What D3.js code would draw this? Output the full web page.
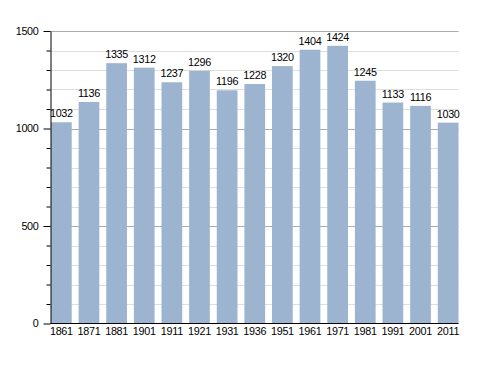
<!doctype html>
<html>
<head>
  <meta charset="utf-8">
  <title>Population</title>
  <script src="https://cdnjs.cloudflare.com/ajax/libs/d3/7.8.5/d3.min.js"></script>
  <style>
  body { margin: 0; background: #fff; }
  text { font-family: "Liberation Sans", Arial, sans-serif; font-size: 10.8px; letter-spacing: -0.3px; fill: #000; }
  .bar { fill: #9db4d0; }
  .grid-minor { stroke: #dedede; stroke-width: 1px; }
  .grid-major { stroke: #ababab; stroke-width: 1px; }
  .axis path, .axis line { stroke: #000; }
  </style>
</head>
<body>
  <script>
  var years = ["1861", "1871", "1881", "1901", "1911", "1921", "1931", "1936",
    "1951", "1961", "1971", "1981", "1991", "2001", "2011"];
  var population = [1032, 1136, 1335, 1312, 1237, 1296, 1196, 1228,
    1320, 1404, 1424, 1245, 1133, 1116, 1030];
  var yTicks = [0, 500, 1000, 1500];

  var width = 488, height = 373,
    plotLeft = 50.5, plotRight = 458.5, plotTop = 31, plotBottom = 323.5;

  var svg = d3.select("body").append("svg")
    .attr("width", width)
    .attr("height", height);

  var x = d3.scaleBand()
    .domain(years)
    .range([plotLeft + 0.5, plotRight])
    .paddingInner(0.25)
    .paddingOuter(0);

  var y = d3.scaleLinear()
    .domain([0, 1500])
    .range([plotBottom, plotTop]);

  var minor = d3.range(100, 1600, 100).filter(function(d) { return d % 500 !== 0; });

  svg.append("g").selectAll("line")
    .data(minor)
    .enter().append("line")
    .attr("class", "grid-minor")
    .attr("x1", plotLeft).attr("x2", plotRight)
    .attr("y1", function(d) { return Math.round(y(d)) + 0.5; })
    .attr("y2", function(d) { return Math.round(y(d)) + 0.5; });

  svg.append("g").selectAll("line")
    .data(yTicks.slice(1))
    .enter().append("line")
    .attr("class", "grid-major")
    .attr("x1", plotLeft).attr("x2", plotRight)
    .attr("y1", function(d) { return Math.round(y(d)) + 0.5; })
    .attr("y2", function(d) { return Math.round(y(d)) + 0.5; });

  svg.append("g").selectAll("rect")
    .data(population)
    .enter().append("rect")
    .attr("class", "bar")
    .attr("x", function(d, i) { return x(years[i]); })
    .attr("width", x.bandwidth())
    .attr("y", function(d) { return y(d); })
    .attr("height", function(d) { return plotBottom - y(d); });

  svg.append("g").selectAll("text")
    .data(population)
    .enter().append("text")
    .attr("x", function(d, i) { return x(years[i]) + x.bandwidth() / 2; })
    .attr("y", function(d) { return y(d) - 5; })
    .attr("text-anchor", "middle")
    .text(function(d) { return d; });

  // y axis: minor ticks every 100, major labelled every 500
  var yAxisMinor = d3.axisLeft(y).tickValues(minor).tickSize(4).tickFormat("");
  svg.append("g")
    .attr("class", "axis")
    .attr("transform", "translate(" + plotLeft + ",0)")
    .call(yAxisMinor)
    .call(function(g) { g.select(".domain").remove(); });

  var yAxis = d3.axisLeft(y).tickValues(yTicks).tickFormat(d3.format("d"))
    .tickSize(7).tickSizeOuter(0).tickPadding(5);
  svg.append("g")
    .attr("class", "axis")
    .attr("transform", "translate(" + plotLeft + ",0)")
    .call(yAxis)
    .call(function(g) { g.selectAll("text").style("font-size", null); });

  var xAxis = d3.axisBottom(x).tickSize(0).tickSizeOuter(0).tickPadding(4);
  svg.append("g")
    .attr("class", "axis")
    .attr("transform", "translate(0," + plotBottom + ")")
    .call(xAxis)
    .call(function(g) {
      g.select(".domain").attr("d", "M" + plotLeft + ",0H" + plotRight);
    });
  </script>
</body>
</html>
